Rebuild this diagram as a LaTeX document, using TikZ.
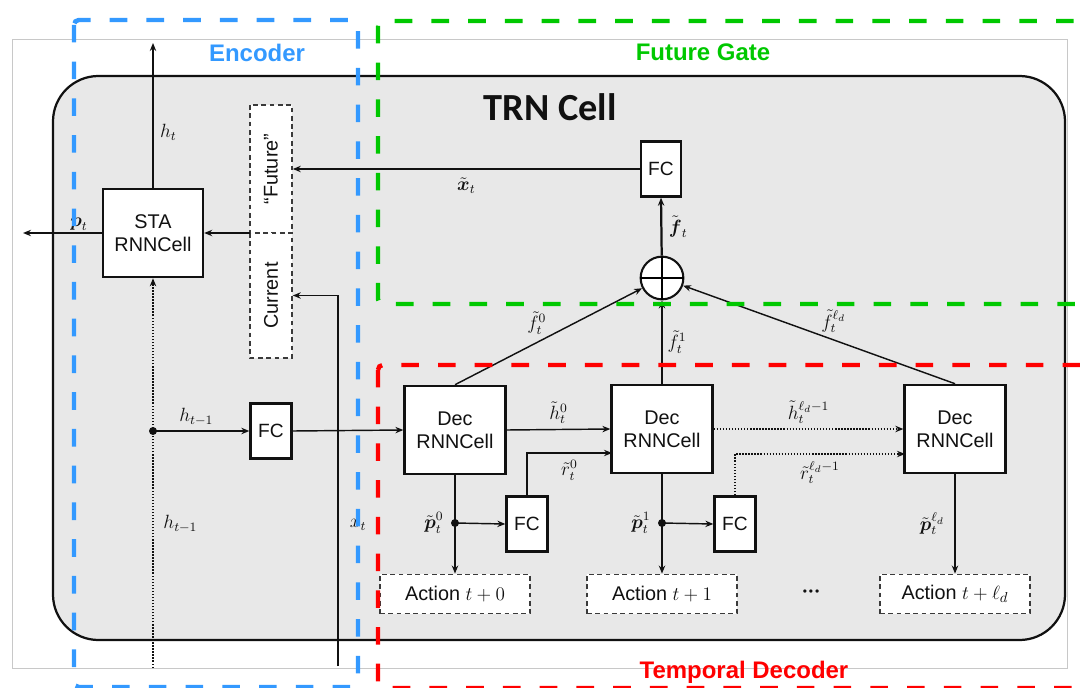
\documentclass[tikz,border=0pt]{standalone}
\usepackage{amsmath}
\usepackage[no-math]{fontspec}
\setmainfont{Liberation Sans}
\setsansfont{Liberation Sans}
\newfontfamily\trnfont{Carlito}
\usetikzlibrary{arrows.meta, positioning, calc}
\definecolor{ink}{HTML}{111111}
\definecolor{dashgray}{HTML}{3A3A3A}
\definecolor{frame}{HTML}{C8C8C8}
\definecolor{cellfill}{HTML}{E8E8E8}
\definecolor{encblue}{HTML}{3399FF}
\definecolor{gategreen}{HTML}{00C800}
\definecolor{decred}{HTML}{FF0000}
\tikzset{
  font=\sffamily,
  >={Stealth[length=5pt, width=4pt]},
  %
  box/.style={draw=ink, line width=1.5pt, fill=white, inner sep=1pt,
              align=center, text=ink, font=\sffamily\fontsize{12.4}{14.5}\selectfont},
  boxcell/.style={box, minimum width=22.2mm, minimum height=19.4mm},
  boxfc/.style={box, minimum width=9mm, minimum height=12.1mm,
                font=\sffamily\fontsize{12}{14}\selectfont},
  boxact/.style={box, draw=dashgray, line width=1.1pt, dash pattern=on 3pt off 2.2pt,
                 minimum width=33mm, minimum height=8.6mm},
  boxgate/.style={boxact, rotate=90, minimum height=9.2mm},
  %
  flow/.style={draw=ink, line width=0.9pt, ->},
  flowdot/.style={flow, densely dotted, line width=1.1pt},
  %
  lbl/.style={font=\fontsize{12}{14}\selectfont, text=ink, inner sep=1pt},
  region/.style={line width=2.8pt, dash pattern=on 11pt off 12pt, rounded corners=3pt},
  regionlbl/.style={font=\sffamily\bfseries\fontsize{15}{18}\selectfont},
}

\begin{document}
\begin{tikzpicture}[x=0.22mm, y=-0.22mm]

  \useasboundingbox (0,0) rectangle (1080,688);

  % --- frame and cell ----------------------------------------------------
  \draw[draw=frame, line width=0.6pt] (12,39) rectangle (1067,668);
  \draw[draw=ink, line width=1.4pt, fill=cellfill, rounded corners=10mm]
    (53,76) rectangle (1065,640);
  \node[font=\trnfont\bfseries\fontsize{24}{28}\selectfont, text=ink] (trn) at (550,107) {TRN Cell};

  % --- encoder -----------------------------------------------------------
  \node[boxcell, minimum width=22mm] (sta) at (153,233) {STA\\RNNCell};
  \node[boxgate, minimum width=28.2mm] (fut) at (271,169) {``Future''};
  \node[boxgate, minimum width=27.5mm] (cur) at (271,295.5) {Current};
  \node[boxfc] (fcin) at (271,431) {FC};

  \coordinate (htop)  at (153,43);
  \coordinate (pout)  at (23,233);
  \coordinate (hin)   at (153,668);
  \coordinate (hdot)  at (153,431);
  \coordinate (xin)   at (338,666);
  \coordinate (split) at (250,233);

  % --- future gate -------------------------------------------------------
  \node[boxfc, minimum width=8.8mm] (fcg) at (661,169) {FC};
  \node[circle, draw=ink, line width=1.3pt, fill=white, minimum size=9.4mm,
        inner sep=0pt] (plus) at (662,278) {};
  \draw[line width=1.3pt] (plus.north) -- (plus.south) (plus.west) -- (plus.east);

  % --- temporal decoder --------------------------------------------------
  \node[boxcell] (dec1) at (455,430) {Dec\\RNNCell};
  \node[boxcell] (dec2) at (662,429) {Dec\\RNNCell};
  \node[boxcell] (dec3) at (955,429) {Dec\\RNNCell};
  \node[boxfc] (fc1) at (527,524) {FC};
  \node[boxfc] (fc2) at (735,524) {FC};
  \node[boxact] (act0) at (455,594) {Action $t+0$};
  \node[boxact] (act1) at (662,594) {Action $t+1$};
  \node[boxact] (act2) at (955,594) {Action $t+\ell_d$};
  \node[text=ink, font=\fontsize{7.5}{8}\selectfont] (more) at (811,593)
    {\textbullet\hspace{1.2pt}\textbullet\hspace{1.2pt}\textbullet};

  \coordinate (p0dot) at (455,523);
  \coordinate (p1dot) at (662,523);
  \coordinate (r0in)  at (612,453);
  \coordinate (r1in)  at (905,454);

  % --- encoder flows -----------------------------------------------------
  \draw[flow] (sta.north) -- node[lbl, right=3pt, pos=0.38] (lht) {$h_t$} (htop);
  \draw[flow] (sta.west) -- node[lbl, above, pos=0.29] (lpt) {$\boldsymbol{p}_t$} (pout);
  \draw[flowdot] (hin) -- node[lbl, right=5pt, pos=0.37] (lhin) {$h_{t-1}$} (sta.south);
  \fill[ink] (hdot) circle (2.5pt);
  \draw[flow] (hdot) -- node[lbl, above=2pt, pos=0.45] (lhfc) {$h_{t-1}$} (fcin.west);
  \draw[flow] (fcin.east) -- (dec1.west);
  \draw[flow] (xin) |- node[lbl, right=6pt, pos=0.19] (lxin) {$x_t$} (cur.south);
  \draw[flow] (split) -- (sta.east);

  % --- gate flows --------------------------------------------------------
  \draw[flow] (fcg.west) -- node[lbl, below=4pt] (lxt) {$\tilde{\boldsymbol{x}}_t$} (fut.south);
  \draw[flow, line width=1.4pt] (plus) -- node[lbl, right=3pt] (lft) {$\tilde{\boldsymbol{f}}_t$} (fcg.south);
  \draw[flow] (dec1.north) -- node[lbl, anchor=south east, pos=0.5] (lf0) {$\tilde{f}_t^0$} (plus);
  \draw[flow] (dec2.north) -- node[lbl, right=2pt] (lf1) {$\tilde{f}_t^1$} (plus);
  \draw[flow] (dec3.north) -- node[lbl, anchor=south west, pos=0.5] (lfl) {$\tilde{f}_t^{\ell_d}$} (plus);

  % --- decoder flows -----------------------------------------------------
  \draw[flow] (dec1.east) -- node[lbl, above=2pt] (lh0) {$\tilde{h}_t^0$} (dec2.west);
  \draw[flow] (fc1.north) |- node[lbl, below=3pt, pos=0.75] (lr0) {$\tilde{r}_t^0$} (r0in);
  \draw[flow] (dec1.south) -- (act0.north);
  \fill[ink] (p0dot) circle (2.5pt);
  \draw[flow] (p0dot) -- (fc1.west);
  \node[lbl, left=6pt] (lp0) at (p0dot) {$\tilde{\boldsymbol{p}}_t^0$};

  \draw[flow] (dec2.south) -- (act1.north);
  \fill[ink] (p1dot) circle (2.5pt);
  \draw[flow] (p1dot) -- (fc2.west);
  \node[lbl, left=6pt] (lp1) at (p1dot) {$\tilde{\boldsymbol{p}}_t^1$};

  \draw[flowdot] (dec2.east) -- node[lbl, above=2pt] (lhl) {$\tilde{h}_t^{\ell_d-1}$} (dec3.west);
  \draw[flowdot] (fc2.north) |- node[lbl, below=3pt, pos=0.75] (lrl) {$\tilde{r}_t^{\ell_d-1}$} (r1in);
  \draw[flow] (dec3.south) -- node[lbl, left=5pt] (lpl) {$\tilde{\boldsymbol{p}}_t^{\ell_d}$} (act2.north);

  % --- the three regions -------------------------------------------------
  \draw[region, draw=encblue] (74,20) rectangle (358,687);
  \draw[region, draw=gategreen] (378,21) rectangle (1110,304);
  \draw[region, draw=decred] (378,365) rectangle (1110,688);
  \node[regionlbl, text=encblue] (enclbl) at (257,53) {Encoder};
  \node[regionlbl, text=gategreen] (gatelbl) at (703,52) {Future Gate};
  \node[regionlbl, text=decred] (declbl) at (744,672) {Temporal Decoder};

\end{tikzpicture}
\end{document}
